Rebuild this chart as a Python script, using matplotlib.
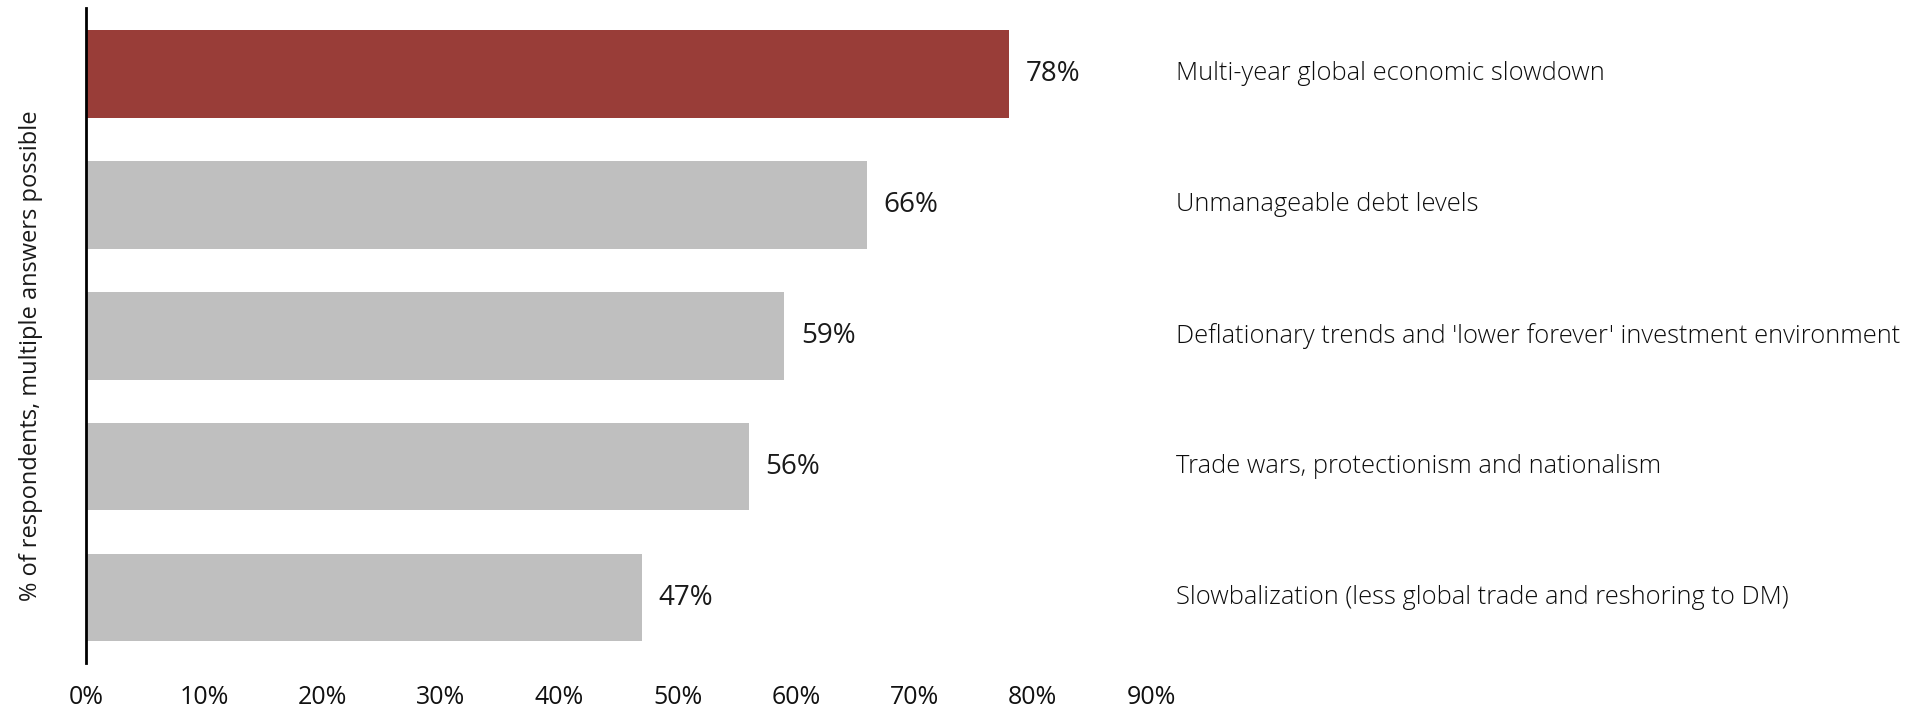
import matplotlib.pyplot as plt
from matplotlib import font_manager

categories = [
    "Multi-year global economic slowdown",
    "Unmanageable debt levels",
    "Deflationary trends and 'lower forever' investment environment",
    "Trade wars, protectionism and nationalism",
    "Slowbalization (less global trade and reshoring to DM)",
]
values = [78, 66, 59, 56, 47]
bar_colors = ["#993D38", "#BFBFBF", "#BFBFBF", "#BFBFBF", "#BFBFBF"]
x_ticks = [0, 10, 20, 30, 40, 50, 60, 70, 80, 90]

label_font = font_manager.FontProperties(family="Open Sans", weight="light", size=18.4)
tick_font = font_manager.FontProperties(family="Open Sans", size=18)
value_font = font_manager.FontProperties(family="Open Sans", size=20)

fig = plt.figure(figsize=(19.19, 7.09), dpi=100)
ax = fig.add_axes([0.0448, 0.0649, 0.555, 0.9234])

ypos = list(range(len(categories)))
ax.barh(ypos, values, height=0.67, color=bar_colors)

for y, v, cat in zip(ypos, values, categories):
    ax.text(v + 1.4, y, f"{v}%", va="center", ha="left",
            fontproperties=value_font, color="#1a1a1a")
    ax.text(92.1, y, cat, va="center", ha="left",
            fontproperties=label_font, color="#0d0d0d", clip_on=False)

ax.set_xlim(0, 90)
ax.set_ylim(4.5, -0.5)
ax.set_xticks(x_ticks)
ax.set_xticklabels([f"{t}%" for t in x_ticks], fontproperties=tick_font)
ax.set_yticks([])
ax.tick_params(axis="x", length=0, pad=16, colors="#111111")

for side in ["top", "right", "bottom"]:
    ax.spines[side].set_visible(False)
ax.spines["left"].set_linewidth(2)
ax.spines["left"].set_color("black")

ax.set_ylabel("% of respondents, multiple answers possible",
              fontproperties=font_manager.FontProperties(family="Open Sans", size=17),
              color="#1a1a1a")
ax.yaxis.set_label_coords(-0.040, 0.47)

fig.savefig("out.png", dpi=100)
